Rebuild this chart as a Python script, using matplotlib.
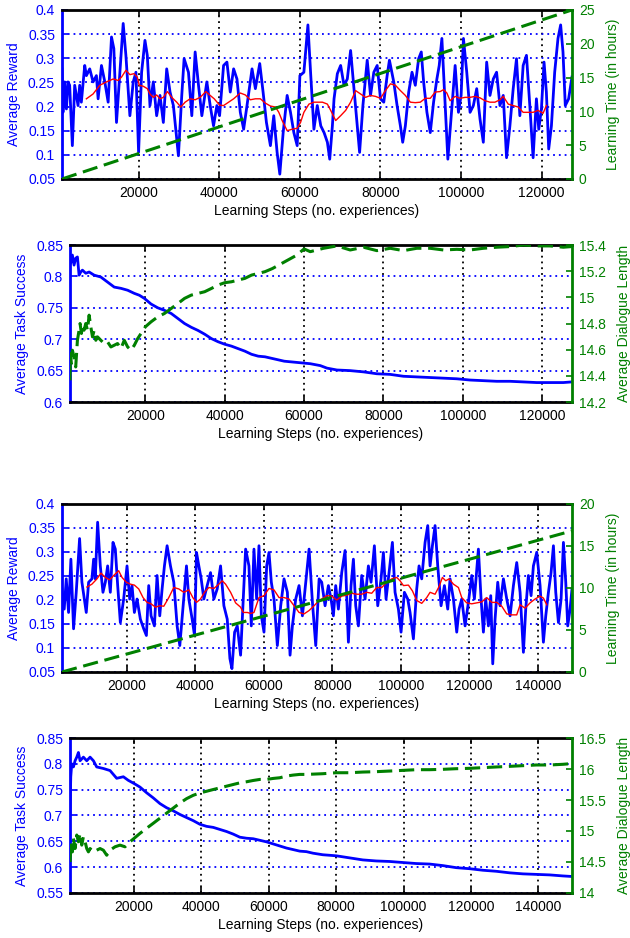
import numpy as np
import matplotlib
matplotlib.use('Agg')
import matplotlib.pyplot as plt
from matplotlib.ticker import FuncFormatter

plt.rcParams['font.family'] = ['Liberation Sans', 'DejaVu Sans']
plt.rcParams['font.size'] = 10

BLUE = '#0000ff'
GREEN = '#008000'
RED = '#ff0000'

# ---- data (step, value) ----
# panel 1: reward (blue), moving average (red), learning time in hours (green)
p1_reward = np.array([
    (1000, 0.278), (1240, 0.188), (1660, 0.251), (2100, 0.195), (2490, 0.251), (2900, 0.244),
    (3570, 0.119), (4150, 0.244), (4980, 0.202), (5390, 0.244), (5800, 0.209), (6640, 0.285),
    (7050, 0.264), (7880, 0.278), (8710, 0.251), (9540, 0.264), (9960, 0.216), (10790, 0.285),
    (11620, 0.251), (12450, 0.209), (13280, 0.344), (13860, 0.320), (14520, 0.167), (15350, 0.271),
    (16180, 0.372), (16850, 0.306), (17840, 0.181), (18670, 0.251), (19340, 0.271), (20000, 0.105),
    (20750, 0.271), (21580, 0.337), (22160, 0.306), (22820, 0.202), (23650, 0.251), (24480, 0.181),
    (25310, 0.223), (26140, 0.167), (26970, 0.278), (27800, 0.230), (28630, 0.202), (29880, 0.098),
    (30710, 0.223), (31290, 0.299), (32370, 0.271), (33200, 0.181), (34030, 0.313), (34860, 0.244),
    (35690, 0.181), (36930, 0.251), (37760, 0.202), (38590, 0.160), (39420, 0.202), (40090, 0.181),
    (41080, 0.285), (41910, 0.292), (42740, 0.230), (43570, 0.278), (44400, 0.257), (45230, 0.188),
    (46060, 0.153), (46890, 0.202), (48140, 0.278), (48970, 0.237), (50050, 0.289), (50880, 0.230),
    (51710, 0.167), (52700, 0.119), (53530, 0.181), (54360, 0.105), (55030, 0.060), (55860, 0.146),
    (56850, 0.223), (57680, 0.188), (58510, 0.146), (59340, 0.119), (60010, 0.264), (61000, 0.271),
    (62000, 0.369), (62660, 0.271), (63490, 0.153), (64320, 0.202), (65190, 0.160), (66010, 0.146),
    (66830, 0.126), (67410, 0.091), (68070, 0.160), (68480, 0.216), (69300, 0.268), (70120, 0.285),
    (70950, 0.244), (71770, 0.257), (72590, 0.316), (73420, 0.237), (74240, 0.160), (74820, 0.105),
    (75640, 0.202), (76710, 0.296), (77530, 0.223), (78350, 0.271), (79180, 0.285), (80000, 0.216),
    (80820, 0.209), (81650, 0.264), (82220, 0.296), (83290, 0.251), (84120, 0.202), (84940, 0.160),
    (85510, 0.126), (86170, 0.160), (87000, 0.230), (87820, 0.271), (88640, 0.244), (89460, 0.299),
    (90120, 0.313), (90700, 0.251), (91520, 0.188), (92350, 0.146), (93170, 0.209), (93990, 0.257),
    (94570, 0.285), (95230, 0.341), (96050, 0.202), (96710, 0.091), (97280, 0.153), (97860, 0.216),
    (98520, 0.285), (99340, 0.188), (100000, 0.223), (100580, 0.341), (101400, 0.271), (102220, 0.188),
    (103040, 0.202), (103870, 0.237), (104690, 0.174), (105510, 0.126), (106340, 0.292), (107160, 0.223),
    (107980, 0.257), (108800, 0.271), (109630, 0.202), (110450, 0.223), (111270, 0.094), (112100, 0.160),
    (112920, 0.237), (113740, 0.299), (114570, 0.181), (115390, 0.285), (116210, 0.306), (117040, 0.202),
    (117860, 0.094), (118680, 0.216), (119260, 0.153), (119920, 0.195), (120570, 0.292), (121150, 0.230),
    (121730, 0.112), (122400, 0.160), (123210, 0.271), (124030, 0.341), (124690, 0.369), (125270, 0.313),
    (125840, 0.202), (126670, 0.216), (127490, 0.261)])

p1_avg = np.array([
    (7050, 0.216), (8710, 0.226), (10370, 0.244), (12030, 0.251), (13690, 0.257), (14940, 0.254),
    (15770, 0.261), (16850, 0.275), (17840, 0.266), (18840, 0.268), (19670, 0.261), (20170, 0.244),
    (21160, 0.242), (22160, 0.237), (22820, 0.226), (23650, 0.219), (24480, 0.224), (25310, 0.216),
    (26140, 0.219), (27140, 0.231), (28220, 0.219), (29460, 0.209), (30460, 0.199), (31540, 0.209),
    (32780, 0.216), (34030, 0.214), (35270, 0.219), (36680, 0.231), (37760, 0.223), (38760, 0.216),
    (40090, 0.203), (41080, 0.202), (42330, 0.209), (43570, 0.216), (45230, 0.228), (46480, 0.224),
    (47720, 0.214), (48970, 0.216), (50210, 0.216), (51460, 0.207), (52700, 0.201), (53950, 0.199),
    (54780, 0.188), (55610, 0.171), (56850, 0.150), (58100, 0.153), (59340, 0.155), (60170, 0.167),
    (61000, 0.188), (62250, 0.205), (63490, 0.209), (65600, 0.209), (66830, 0.205), (67650, 0.192),
    (68890, 0.171), (70120, 0.181), (71360, 0.192), (72590, 0.209), (73830, 0.233), (75060, 0.226),
    (76300, 0.219), (77530, 0.223), (78770, 0.221), (80000, 0.217), (81230, 0.233), (82470, 0.247),
    (83700, 0.244), (84940, 0.233), (86170, 0.223), (87410, 0.209), (88640, 0.208), (89880, 0.209),
    (91110, 0.217), (92350, 0.217), (93580, 0.230), (94810, 0.231), (95640, 0.235), (96460, 0.228),
    (97280, 0.212), (98520, 0.221), (99750, 0.217), (100990, 0.219), (102220, 0.219), (103460, 0.221),
    (104690, 0.218), (105920, 0.212), (107160, 0.209), (108390, 0.209), (109630, 0.214), (110450, 0.221),
    (111690, 0.205), (112920, 0.202), (114150, 0.199), (115390, 0.188), (116620, 0.188), (117860, 0.188),
    (119090, 0.192), (120330, 0.186), (121150, 0.202)])

p1_time = np.array([(1000, 0.0), (127500, 25.0)])

# panel 2: task success (blue), dialogue length (green)
p2_success = np.array([
    (1000, 0.826), (1180, 0.821), (1600, 0.834), (2020, 0.818), (2440, 0.829), (2870, 0.831),
    (3290, 0.802), (3710, 0.807), (4130, 0.810), (4980, 0.805), (5820, 0.807), (7090, 0.802),
    (8770, 0.799), (10460, 0.791), (12150, 0.783), (13840, 0.781), (15530, 0.778), (17210, 0.773),
    (18480, 0.770), (19750, 0.765), (21430, 0.756), (23120, 0.750), (24810, 0.746), (26500, 0.741),
    (28190, 0.733), (29870, 0.725), (31560, 0.719), (33250, 0.714), (34940, 0.708), (36630, 0.701),
    (38310, 0.696), (40000, 0.692), (41690, 0.689), (43380, 0.685), (45070, 0.681), (46750, 0.676),
    (48440, 0.673), (50130, 0.672), (55000, 0.665), (61550, 0.661), (64070, 0.658), (65750, 0.654),
    (68260, 0.651), (71620, 0.650), (74970, 0.648), (78330, 0.645), (81690, 0.644), (85040, 0.641),
    (88400, 0.640), (91750, 0.639), (95110, 0.638), (98470, 0.637), (101820, 0.635), (105180, 0.634),
    (108530, 0.633), (111890, 0.633), (115250, 0.632), (118600, 0.631), (121960, 0.631), (125310, 0.631),
    (127410, 0.632)])

p2_length = np.array([
    (1000, 14.366), (1100, 14.570), (1350, 14.494), (1600, 14.596), (2020, 14.545), (2440, 14.468),
    (2870, 14.672), (3290, 14.749), (3540, 14.800), (3880, 14.724), (4130, 14.787), (4550, 14.749),
    (4980, 14.800), (5400, 14.749), (5820, 14.864), (6240, 14.775), (6670, 14.698), (7090, 14.749),
    (7510, 14.672), (7930, 14.698), (8770, 14.672), (9620, 14.647), (10460, 14.660), (11310, 14.621),
    (12150, 14.634), (12990, 14.647), (13840, 14.609), (14680, 14.672), (15530, 14.621), (16370, 14.596),
    (17210, 14.634), (18060, 14.685), (18900, 14.724), (20000, 14.775), (21430, 14.813), (23120, 14.851),
    (24810, 14.877), (26500, 14.915), (28190, 14.953), (29870, 14.992), (31560, 15.017), (33250, 15.030),
    (34940, 15.043), (36630, 15.068), (38310, 15.094), (40000, 15.112), (41690, 15.119), (43380, 15.132),
    (45070, 15.145), (46750, 15.170), (48440, 15.183), (50130, 15.196), (52000, 15.220), (55000, 15.270),
    (58000, 15.320), (60000, 15.370), (61550, 15.349), (64910, 15.375), (68260, 15.393), (71620, 15.362),
    (74970, 15.383), (78330, 15.357), (81690, 15.375), (85040, 15.357), (88400, 15.375), (91750, 15.375),
    (95110, 15.362), (98470, 15.367), (101820, 15.362), (105180, 15.375), (108530, 15.383), (111890, 15.388),
    (115250, 15.400), (118600, 15.393), (121960, 15.393), (125310, 15.383), (127410, 15.388)])

# panel 3: reward (blue), moving average (red), learning time (green)
p3_reward = np.array([
    (1000, 0.223), (1650, 0.181), (2240, 0.244), (2920, 0.174), (3600, 0.285), (4380, 0.140),
    (5160, 0.216), (6140, 0.328), (6820, 0.237), (7510, 0.202), (8090, 0.174), (8780, 0.237),
    (9750, 0.244), (10240, 0.285), (10720, 0.244), (11410, 0.362), (12190, 0.271), (12970, 0.216),
    (13660, 0.237), (14340, 0.271), (15120, 0.216), (15900, 0.320), (16580, 0.306), (17270, 0.230),
    (18050, 0.153), (19020, 0.202), (20000, 0.271), (20780, 0.202), (21460, 0.230), (22150, 0.174),
    (22930, 0.202), (23900, 0.160), (24880, 0.140), (25660, 0.126), (26340, 0.230), (27030, 0.167),
    (28000, 0.146), (28780, 0.251), (29560, 0.167), (30250, 0.223), (30930, 0.271), (31710, 0.313),
    (32690, 0.271), (33660, 0.237), (34640, 0.146), (35420, 0.105), (36400, 0.188), (37370, 0.271),
    (38060, 0.202), (39030, 0.160), (39720, 0.126), (40300, 0.299), (40980, 0.271), (41670, 0.244),
    (42450, 0.202), (43420, 0.230), (44400, 0.257), (45380, 0.202), (46350, 0.223), (47330, 0.271),
    (48300, 0.188), (49280, 0.160), (50060, 0.078), (50650, 0.057), (51430, 0.133), (52210, 0.146),
    (53180, 0.085), (53960, 0.202), (54650, 0.306), (55620, 0.271), (56310, 0.146), (57090, 0.306),
    (57870, 0.202), (58550, 0.313), (59240, 0.167), (60020, 0.133), (60800, 0.271), (61480, 0.299),
    (62160, 0.237), (62940, 0.202), (63920, 0.105), (64900, 0.188), (65870, 0.244), (66850, 0.216),
    (67630, 0.085), (68310, 0.146), (69290, 0.202), (70260, 0.230), (71240, 0.167), (72220, 0.237),
    (73190, 0.306), (74170, 0.195), (75140, 0.105), (76120, 0.244), (76880, 0.237), (77860, 0.188),
    (78830, 0.230), (79610, 0.202), (80290, 0.167), (80970, 0.230), (81750, 0.181), (82730, 0.257),
    (83700, 0.303), (84680, 0.112), (85450, 0.230), (86140, 0.285), (86820, 0.188), (87600, 0.146),
    (88570, 0.251), (89550, 0.202), (90520, 0.271), (91300, 0.237), (92270, 0.313), (93250, 0.188),
    (94220, 0.244), (94900, 0.299), (95680, 0.202), (96560, 0.257), (97530, 0.320), (98310, 0.216),
    (99290, 0.181), (100060, 0.133), (101040, 0.216), (102010, 0.202), (102690, 0.174), (103670, 0.119),
    (104640, 0.223), (105320, 0.271), (106100, 0.244), (107080, 0.320), (107860, 0.355), (108540, 0.271),
    (109220, 0.313), (110000, 0.355), (110780, 0.271), (111750, 0.188), (112730, 0.230), (113700, 0.181),
    (114380, 0.244), (115360, 0.202), (116330, 0.133), (117010, 0.181), (117790, 0.202), (118770, 0.146),
    (119740, 0.195), (120710, 0.251), (121490, 0.202), (122660, 0.306), (123440, 0.202), (124120, 0.133),
    (124800, 0.202), (125580, 0.146), (126270, 0.209), (126850, 0.067), (127530, 0.160), (128310, 0.237),
    (128990, 0.188), (129970, 0.244), (130940, 0.202), (131920, 0.167), (132890, 0.230), (133860, 0.278),
    (134840, 0.216), (135810, 0.091), (136490, 0.181), (137270, 0.251), (138050, 0.209), (138730, 0.271),
    (139710, 0.299), (140680, 0.230), (141650, 0.112), (142340, 0.167), (143120, 0.216), (143890, 0.257),
    (144580, 0.313), (145260, 0.216), (146040, 0.153), (146820, 0.202), (147500, 0.320), (148180, 0.237),
    (148760, 0.146), (149450, 0.181), (150000, 0.223)])

p3_avg = np.array([
    (8290, 0.227), (9750, 0.233), (11220, 0.244), (12390, 0.256), (13660, 0.247), (14920, 0.242),
    (16100, 0.251), (17560, 0.261), (18540, 0.247), (19800, 0.237), (20980, 0.233), (22150, 0.231),
    (23420, 0.223), (24680, 0.205), (25860, 0.195), (27030, 0.192), (28300, 0.185), (29560, 0.188),
    (30740, 0.187), (32200, 0.205), (33660, 0.226), (35130, 0.223), (36590, 0.216), (38060, 0.221),
    (39230, 0.205), (40300, 0.195), (41470, 0.202), (42640, 0.216), (43910, 0.226), (45380, 0.224),
    (46840, 0.233), (47820, 0.240), (48790, 0.233), (50260, 0.216), (51720, 0.194), (53180, 0.185),
    (53960, 0.174), (55140, 0.174), (56110, 0.172), (57090, 0.174), (58550, 0.205), (60020, 0.209),
    (61480, 0.224), (62940, 0.221), (64410, 0.205), (65870, 0.205), (67340, 0.202), (68800, 0.188),
    (70260, 0.174), (71730, 0.171), (73190, 0.178), (74660, 0.188), (76120, 0.199), (77600, 0.205),
    (78340, 0.209), (79810, 0.208), (81270, 0.200), (82730, 0.208), (84190, 0.210), (85650, 0.214),
    (87110, 0.212), (88570, 0.212), (90030, 0.216), (91490, 0.214), (92950, 0.226), (94420, 0.226),
    (95880, 0.237), (97340, 0.244), (98800, 0.247), (99770, 0.240), (100750, 0.230), (102210, 0.231),
    (103380, 0.219), (104640, 0.199), (106100, 0.193), (107560, 0.205), (108540, 0.216), (110000, 0.212),
    (111170, 0.228), (112140, 0.247), (113120, 0.240), (114090, 0.244), (115360, 0.233), (116820, 0.226),
    (117790, 0.205), (119250, 0.194), (120710, 0.192), (122170, 0.194), (123640, 0.196), (125100, 0.205),
    (126560, 0.195), (128020, 0.195), (129480, 0.187), (130940, 0.171), (132400, 0.169), (133860, 0.169),
    (134840, 0.190), (136300, 0.183), (137760, 0.194), (139220, 0.202), (140680, 0.208), (141650, 0.204),
    (142630, 0.190)])

p3_time = np.array([(1000, 0.0), (150000, 16.8)])

# panel 4: task success (blue), dialogue length (green)
p4_success = np.array([
    (1000, 0.705), (1230, 0.775), (1520, 0.800), (2020, 0.794), (2510, 0.806), (3010, 0.813),
    (3500, 0.822), (3990, 0.806), (4980, 0.813), (5970, 0.806), (6960, 0.813), (7950, 0.806),
    (8930, 0.794), (10910, 0.791), (12890, 0.787), (14860, 0.772), (16840, 0.775), (18320, 0.768),
    (20000, 0.762), (21780, 0.755), (23750, 0.744), (25730, 0.734), (27710, 0.723), (29680, 0.715),
    (31660, 0.709), (33630, 0.702), (35610, 0.696), (37590, 0.690), (39560, 0.683), (41540, 0.679),
    (43510, 0.677), (45490, 0.673), (47470, 0.669), (49440, 0.664), (51420, 0.658), (53390, 0.656),
    (55370, 0.655), (57350, 0.652), (59320, 0.649), (61300, 0.645), (63270, 0.641), (65250, 0.637),
    (67230, 0.634), (69200, 0.631), (71180, 0.630), (73150, 0.627), (76040, 0.624), (80000, 0.622),
    (83960, 0.618), (87920, 0.614), (91880, 0.612), (95840, 0.611), (99800, 0.609), (103760, 0.607),
    (107720, 0.606), (111680, 0.603), (115640, 0.599), (119600, 0.597), (123560, 0.594), (127520, 0.592),
    (131480, 0.589), (135440, 0.587), (139400, 0.586), (143360, 0.585), (147320, 0.583), (149800, 0.582)])

p4_length = np.array([
    (1030, 14.500), (1330, 14.826), (1720, 14.663), (2020, 14.880), (2510, 14.717), (3010, 14.935),
    (3500, 14.826), (3990, 14.962), (4490, 14.772), (4980, 14.908), (5480, 14.826), (5970, 14.717),
    (6470, 14.663), (6960, 14.717), (7950, 14.663), (8930, 14.690), (9920, 14.717), (10910, 14.690),
    (11900, 14.609), (12890, 14.690), (14370, 14.745), (15850, 14.772), (17330, 14.745), (18810, 14.826),
    (20000, 14.880), (21780, 14.962), (23750, 15.044), (25730, 15.125), (27710, 15.207), (29680, 15.288),
    (31660, 15.370), (33630, 15.451), (35610, 15.522), (37590, 15.576), (39560, 15.614), (41540, 15.641),
    (43510, 15.669), (45490, 15.696), (47470, 15.723), (49440, 15.750), (51420, 15.777), (53390, 15.794),
    (55370, 15.815), (57350, 15.832), (59320, 15.832), (61300, 15.848), (63270, 15.859), (65250, 15.886),
    (67230, 15.902), (69200, 15.913), (71180, 15.913), (76040, 15.924), (80000, 15.940), (83960, 15.940),
    (87920, 15.951), (91880, 15.957), (95840, 15.967), (99800, 15.978), (103760, 15.989), (107720, 15.989),
    (111680, 15.995), (115640, 16.005), (119600, 16.011), (123560, 16.022), (127520, 16.033), (131480, 16.043),
    (135440, 16.054), (139400, 16.065), (143360, 16.065), (147320, 16.076), (149800, 16.087)])

xlabel = 'Learning Steps (no. experiences)'


def num(v, pos):
    return f'{round(v, 4):g}'


def setup(rect, xmax, xticks, ylim, yticks, y2lim, y2ticks, ylab, y2lab):
    ax = fig.add_axes(rect)
    ax2 = ax.twinx()
    ax.set_xlim(1000, xmax)
    ax.set_ylim(*ylim)
    ax2.set_ylim(*y2lim)
    ax.set_xticks(xticks)
    ax.set_yticks(yticks)
    ax2.set_yticks(y2ticks)
    ax.yaxis.set_major_formatter(FuncFormatter(num))
    ax2.yaxis.set_major_formatter(FuncFormatter(num))
    ax.xaxis.set_major_formatter(FuncFormatter(lambda v, p: f'{int(v)}'))
    ax.yaxis.grid(True, color=BLUE, linestyle=(0, (1, 2.2)), linewidth=1.3)
    ax.xaxis.grid(True, color='black', linestyle=(0, (1, 2.2)), linewidth=1.3)
    ax.set_axisbelow(True)
    ax.tick_params(axis='y', colors=BLUE, direction='in', length=4, width=1.2, pad=5, labelsize=10)
    ax.tick_params(axis='x', colors='black', direction='in', length=4, width=1.2, pad=5,
                   labelsize=10, top=True)
    ax2.tick_params(axis='y', colors=GREEN, direction='in', length=4, width=1.2, pad=5, labelsize=10)
    for s in ('top', 'bottom'):
        ax.spines[s].set_color('black')
        ax.spines[s].set_linewidth(2)
        ax2.spines[s].set_visible(False)
    ax.spines['left'].set_color(BLUE)
    ax.spines['left'].set_linewidth(2)
    ax.spines['right'].set_visible(False)
    ax2.spines['left'].set_visible(False)
    ax2.spines['right'].set_color(GREEN)
    ax2.spines['right'].set_linewidth(2)
    ax.set_xlabel(xlabel, fontsize=10, labelpad=3)
    ax.set_ylabel(ylab, color=BLUE, fontsize=10, labelpad=5)
    ax2.set_ylabel(y2lab, color=GREEN, fontsize=10, labelpad=8)
    return ax, ax2


fig = plt.figure(figsize=(6.3, 9.38), dpi=100)

short_ticks = [20000, 40000, 60000, 80000, 100000, 120000]
long_ticks = short_ticks + [140000]
dash = (0, (5, 2.2))

# panel 1
ax, ax2 = setup([0.0984, 0.8092, 0.8095, 0.1802], 127500, short_ticks,
                (0.05, 0.4), np.arange(0.05, 0.401, 0.05), (0, 25), np.arange(0, 26, 5),
                'Average Reward', 'Learning Time (in hours)')
ax.plot(p1_reward[:, 0], p1_reward[:, 1], color=BLUE, lw=2.0)
ax.plot(p1_avg[:, 0], p1_avg[:, 1], color=RED, lw=1.0)
ax2.plot(p1_time[:, 0], p1_time[:, 1], color=GREEN, lw=2.2, linestyle=dash)

# panel 2
ax, ax2 = setup([0.1111, 0.5714, 0.7968, 0.1674], 127500, short_ticks,
                (0.6, 0.85), np.arange(0.6, 0.851, 0.05), (14.2, 15.4), np.arange(14.2, 15.41, 0.2),
                'Average Task Success', 'Average Dialogue Length')
ax.plot(p2_success[:, 0], p2_success[:, 1], color=BLUE, lw=2.0)
ax2.plot(p2_length[:, 0], p2_length[:, 1], color=GREEN, lw=2.2, linestyle=dash)

# panel 3
ax, ax2 = setup([0.0984, 0.2836, 0.8095, 0.1791], 150000, long_ticks,
                (0.05, 0.4), np.arange(0.05, 0.401, 0.05), (0, 20), np.arange(0, 21, 5),
                'Average Reward', 'Learning Time (in hours)')
ax.plot(p3_reward[:, 0], p3_reward[:, 1], color=BLUE, lw=2.0)
ax.plot(p3_avg[:, 0], p3_avg[:, 1], color=RED, lw=1.0)
ax2.plot(p3_time[:, 0], p3_time[:, 1], color=GREEN, lw=2.2, linestyle=dash)

# panel 4
ax, ax2 = setup([0.1111, 0.0480, 0.7968, 0.1652], 150000, long_ticks,
                (0.55, 0.85), np.arange(0.55, 0.851, 0.05), (14, 16.5), np.arange(14, 16.51, 0.5),
                'Average Task Success', 'Average Dialogue Length')
ax.plot(p4_success[:, 0], p4_success[:, 1], color=BLUE, lw=2.0)
ax2.plot(p4_length[:, 0], p4_length[:, 1], color=GREEN, lw=2.2, linestyle=dash)

fig.savefig('out.png', dpi=100)
